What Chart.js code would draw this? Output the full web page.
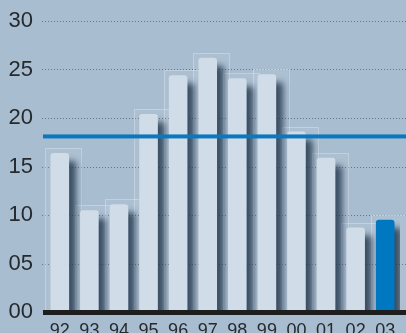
<!DOCTYPE html>
<html>
<head>
<meta charset="utf-8">
<style>
  html, body { margin: 0; padding: 0; background: #a8bdd0; overflow: hidden; }
  #wrap { width: 406px; height: 333px; }
</style>
<script src="https://cdn.jsdelivr.net/npm/chart.js@4/dist/chart.umd.min.js"></script>
</head>
<body>
<div id="wrap"><canvas id="c" width="406" height="333"></canvas></div>
<script>
// Yearly values, two-digit year labels
const years = ['92', '93', '94', '95', '96', '97', '98', '99', '00', '01', '02', '03'];
const values = [16.4, 10.5, 11.1, 20.4, 24.4, 26.2, 24.1, 24.5, 18.6, 15.9, 8.7, 9.5];
// Reference level drawn as a horizontal blue rule
const averageLevel = 18.1;
// Y axis tick values
const yTicks = [0, 5, 10, 15, 20, 25, 30];

const BG = '#a8bdd0';
const BAR = '#d0dce7';
const HIGHLIGHT = '#0077c1';
const barColors = years.map((y, i) => i === years.length - 1 ? HIGHLIGHT : BAR);

const decor = {
  id: 'decor',
  beforeDraw(chart) {
    const ctx = chart.ctx;
    ctx.save();
    ctx.fillStyle = BG;
    ctx.fillRect(0, 0, chart.width, chart.height);
    ctx.restore();
  },
  beforeDatasetsDraw(chart) {
    const ctx = chart.ctx;
    const ys = chart.scales.y;
    const area = chart.chartArea;
    // dotted grid lines running out to the right edge
    ctx.save();
    ctx.strokeStyle = 'rgba(80,92,104,0.75)';
    ctx.lineWidth = 1;
    ctx.setLineDash([1, 2]);
    yTicks.forEach(v => {
      if (v === 0) return;
      const y = Math.round(ys.getPixelForValue(v)) + 0.5;
      ctx.beginPath();
      ctx.moveTo(area.left - 3, y);
      ctx.lineTo(chart.width, y);
      ctx.stroke();
    });
    ctx.restore();
    // faint glass frames behind each bar
    const meta = chart.getDatasetMeta(0);
    ctx.save();
    meta.data.forEach(bar => {
      const w = bar.width;
      const l = bar.x - w / 2 - 5;
      const r = bar.x + w / 2 + 12;
      const t = bar.y - 5;
      const b = bar.base;
      ctx.fillStyle = 'rgba(255,255,255,0.06)';
      ctx.fillRect(l, t, r - l, b - t);
      ctx.strokeStyle = 'rgba(225,235,243,0.4)';
      ctx.lineWidth = 1;
      ctx.strokeRect(Math.round(l) + 0.5, Math.round(t) + 0.5, Math.round(r - l), Math.round(b - t));
    });
    ctx.restore();
  },
  beforeDatasetDraw(chart) {
    const ctx = chart.ctx;
    ctx.save();
    ctx.shadowColor = 'rgba(30,50,72,0.8)';
    ctx.shadowOffsetX = 7;
    ctx.shadowOffsetY = 8;
    ctx.shadowBlur = 6;
  },
  afterDatasetDraw(chart) {
    chart.ctx.restore();
  },
  afterDatasetsDraw(chart) {
    const ctx = chart.ctx;
    const ys = chart.scales.y;
    const area = chart.chartArea;
    ctx.save();
    // level rule
    const ly = ys.getPixelForValue(averageLevel);
    ctx.fillStyle = '#0a77bf';
    ctx.fillRect(area.left - 2, ly - 2, chart.width - area.left + 2, 4);
    // base line
    const by = ys.getPixelForValue(0);
    ctx.fillStyle = '#1e1e1e';
    ctx.fillRect(area.left - 2, by - 2, chart.width - area.left + 2, 5);
    ctx.restore();
  }
};

new Chart(document.getElementById('c'), {
  type: 'bar',
  data: {
    labels: years,
    datasets: [{
      data: values,
      backgroundColor: barColors,
      borderWidth: 0,
      borderRadius: { topLeft: 3, topRight: 3, bottomLeft: 0, bottomRight: 0 },
      borderSkipped: 'bottom',
      categoryPercentage: 1,
      barPercentage: 0.63
    }]
  },
  options: {
    responsive: false,
    animation: false,
    devicePixelRatio: 1,
    layout: { padding: { top: 21, right: 6, left: 0, bottom: 0 } },
    plugins: { legend: { display: false }, tooltip: { enabled: false } },
    scales: {
      x: {
        grid: { display: false, drawTicks: false },
        border: { display: false },
        ticks: {
          color: '#262a2e',
          font: { family: 'Liberation Sans', size: 18 },
          padding: 8,
          maxRotation: 0
        },
        afterFit(s) { s.height = 21; }
      },
      y: {
        min: 0,
        max: 30,
        grid: { display: false, drawTicks: false },
        border: { display: false },
        afterBuildTicks(s) { s.ticks = yTicks.map(v => ({ value: v })); },
        ticks: {
          color: '#262a2e',
          font: { family: 'Liberation Sans', size: 22 },
          padding: 12,
          callback: v => String(v).padStart(2, '0')
        },
        afterFit(s) { s.width = 45; s.paddingTop = 0; s.paddingBottom = 0; }
      }
    }
  },
  plugins: [decor]
});
</script>
</body>
</html>
